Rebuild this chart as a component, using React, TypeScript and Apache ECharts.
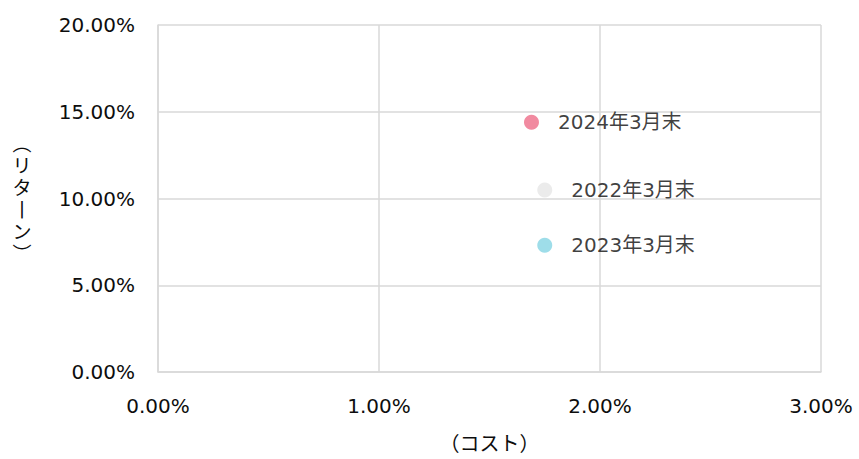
import React, { useEffect, useRef } from "react";
import * as echarts from "echarts";

const seriesNames = ["2022年3月末", "2023年3月末", "2024年3月末"];
const costValues = [1.75, 1.75, 1.69];
const returnValues = [10.49, 7.3, 14.4];
const pointColors = ["#E6E6E6", "#86D4E4", "#EE6D88"];
const xTitle = "（コスト）";
const yTitleChars = ["︵", "リ", "タ", "丨", "ン", "︶"];

const FONT = "'DejaVu Sans', 'Noto Sans CJK JP', sans-serif";
const TEXT = "#0d0d0d";

export default function App() {
  const ref = useRef<HTMLDivElement>(null);
  useEffect(() => {
    if (!ref.current) return;
    const chart = echarts.init(ref.current, undefined, { renderer: "svg" });
    const fmt = (v: number) => v.toFixed(2) + "%";
    chart.setOption({
      animation: false,
      textStyle: { fontFamily: FONT },
      grid: { left: 158, right: 38, top: 25, bottom: 85 },
      xAxis: {
        type: "value",
        min: 0,
        max: 3,
        interval: 1,
        name: xTitle,
        nameLocation: "middle",
        nameGap: 62,
        nameTextStyle: { fontSize: 20, color: TEXT, fontFamily: FONT },
        axisLine: { show: true, lineStyle: { color: "#D9D9D9", width: 1.5 } },
        axisTick: { show: false },
        splitLine: { show: true, lineStyle: { color: "#D9D9D9", width: 1.5 } },
        axisLabel: { formatter: fmt, fontSize: 20, color: TEXT, margin: 24, fontFamily: FONT },
      },
      yAxis: {
        type: "value",
        min: 0,
        max: 20,
        interval: 5,
        name: yTitleChars.join("\n"),
        nameLocation: "middle",
        nameRotate: 0,
        nameGap: 136,
        nameTextStyle: {
          fontSize: 19,
          color: TEXT,
          align: "center",
          verticalAlign: "middle",
          lineHeight: 22,
          padding: [24, 0, 0, 0],
          fontFamily: FONT,
        },
        axisLine: { show: true, lineStyle: { color: "#D9D9D9", width: 1.5 } },
        axisTick: { show: false },
        splitLine: { show: true, lineStyle: { color: "#D9D9D9", width: 1.5 } },
        axisLabel: { formatter: fmt, fontSize: 20, color: TEXT, margin: 23, fontFamily: FONT },
      },
      series: seriesNames.map((name, i) => ({
        type: "scatter",
        name,
        symbol: "circle",
        symbolSize: 15,
        itemStyle: { color: pointColors[i] },
        label: {
          show: true,
          position: "right",
          distance: 19,
          formatter: "{a}",
          fontSize: 20,
          color: TEXT,
          fontFamily: FONT,
        },
        data: [[costValues[i], returnValues[i]]],
      })),
    });
    return () => chart.dispose();
  }, []);
  return (
    <div
      ref={ref}
      style={{ position: "fixed", left: 0, top: 0, width: 859, height: 459, background: "#fff" }}
    />
  );
}
